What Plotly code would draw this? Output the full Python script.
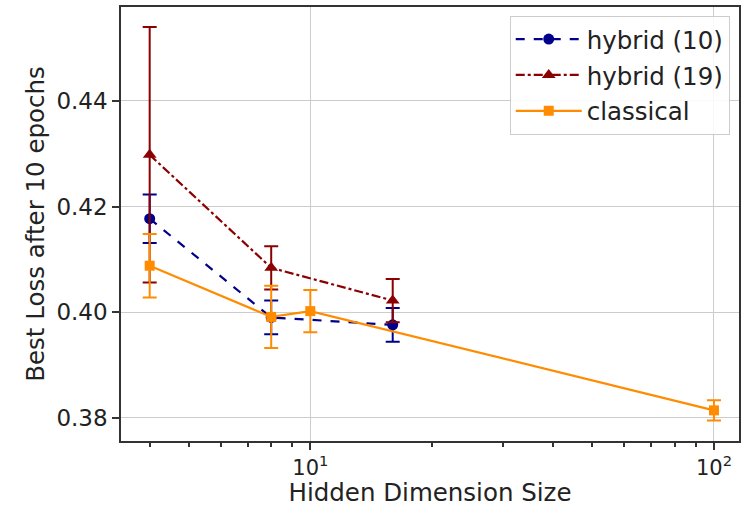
import plotly.graph_objects as go

# Hidden dimension sizes and best loss after 10 epochs (mean ± error)
hybrid10_x = [4, 8, 16]
hybrid10_y = [0.4177, 0.3990, 0.3976]
hybrid10_err = [0.0046, 0.0032, 0.0032]

hybrid19_x = [4, 8, 16]
hybrid19_y = [0.4298, 0.4084, 0.4022]
hybrid19_err = [0.0242, 0.0041, 0.0041]

classical_x = [4, 8, 10, 100]
classical_y = [0.4088, 0.3991, 0.4002, 0.3814]
classical_err = [0.0060, 0.0059, 0.0040, 0.0019]

x_tickvals = [10, 100]
x_ticktext = ["10<sup>1</sup>", "10<sup>2</sup>"]
y_tickvals = [0.38, 0.40, 0.42, 0.44]

series = [
    ("hybrid (10)", hybrid10_x, hybrid10_y, hybrid10_err, "#00008B", "dash", "circle", 11),
    ("hybrid (19)", hybrid19_x, hybrid19_y, hybrid19_err, "#8B0000", "dashdot", "triangle-up", 12),
    ("classical", classical_x, classical_y, classical_err, "#FF8C00", "solid", "square", 10),
]

fig = go.Figure()
for name, xs, ys, errs, color, dash, symbol, size in series:
    fig.add_trace(go.Scatter(
        x=xs, y=ys, name=name, legendgroup=name, mode="lines+markers",
        line=dict(color=color, width=2.2, dash=dash),
        marker=dict(color=color, symbol=symbol, size=size),
        error_y=dict(type="data", array=errs, visible=True,
                     color=color, thickness=2, width=7),
    ))

tick_font = dict(family="DejaVu Sans", size=23, color="#222222")
xtick_font = dict(family="DejaVu Sans", size=21, color="#222222")
title_font = dict(family="DejaVu Sans", size=24.5, color="#222222")
axis_common = dict(
    showline=True, linecolor="#333333", linewidth=1.5, mirror=True,
    showgrid=True, gridcolor="#CCCCCC", gridwidth=1,
    ticks="outside", ticklen=7, tickcolor="#333333", tickwidth=1.5,
    zeroline=False,
)

fig.update_layout(
    width=743, height=507,
    margin=dict(l=121, r=2, t=7, b=66),
    paper_bgcolor="white", plot_bgcolor="white",
    font=tick_font,
    legend=dict(
        x=0.985, y=0.98, xanchor="right", yanchor="top",
        bgcolor="rgba(255,255,255,0.85)", bordercolor="#CCCCCC", borderwidth=1,
        font=dict(family="DejaVu Sans", size=24.5, color="#222222"),
        itemwidth=66, tracegroupgap=1,
    ),
    xaxis=dict(
        type="log", range=[0.531, 2.062],
        tickvals=x_tickvals, ticktext=x_ticktext, tickfont=xtick_font,
        title=dict(text="Hidden Dimension Size", font=title_font, standoff=4),
        minor=dict(ticks="outside", ticklen=4, tickcolor="#333333",
                   dtick="D1", showgrid=False),
        **axis_common,
    ),
    yaxis=dict(
        range=[0.3756, 0.4578],
        tickvals=y_tickvals, tickformat=".2f", tickfont=tick_font,
        title=dict(text="Best Loss after 10 epochs", font=title_font, standoff=5),
        **axis_common,
    ),
)

fig.write_html("out.html")
